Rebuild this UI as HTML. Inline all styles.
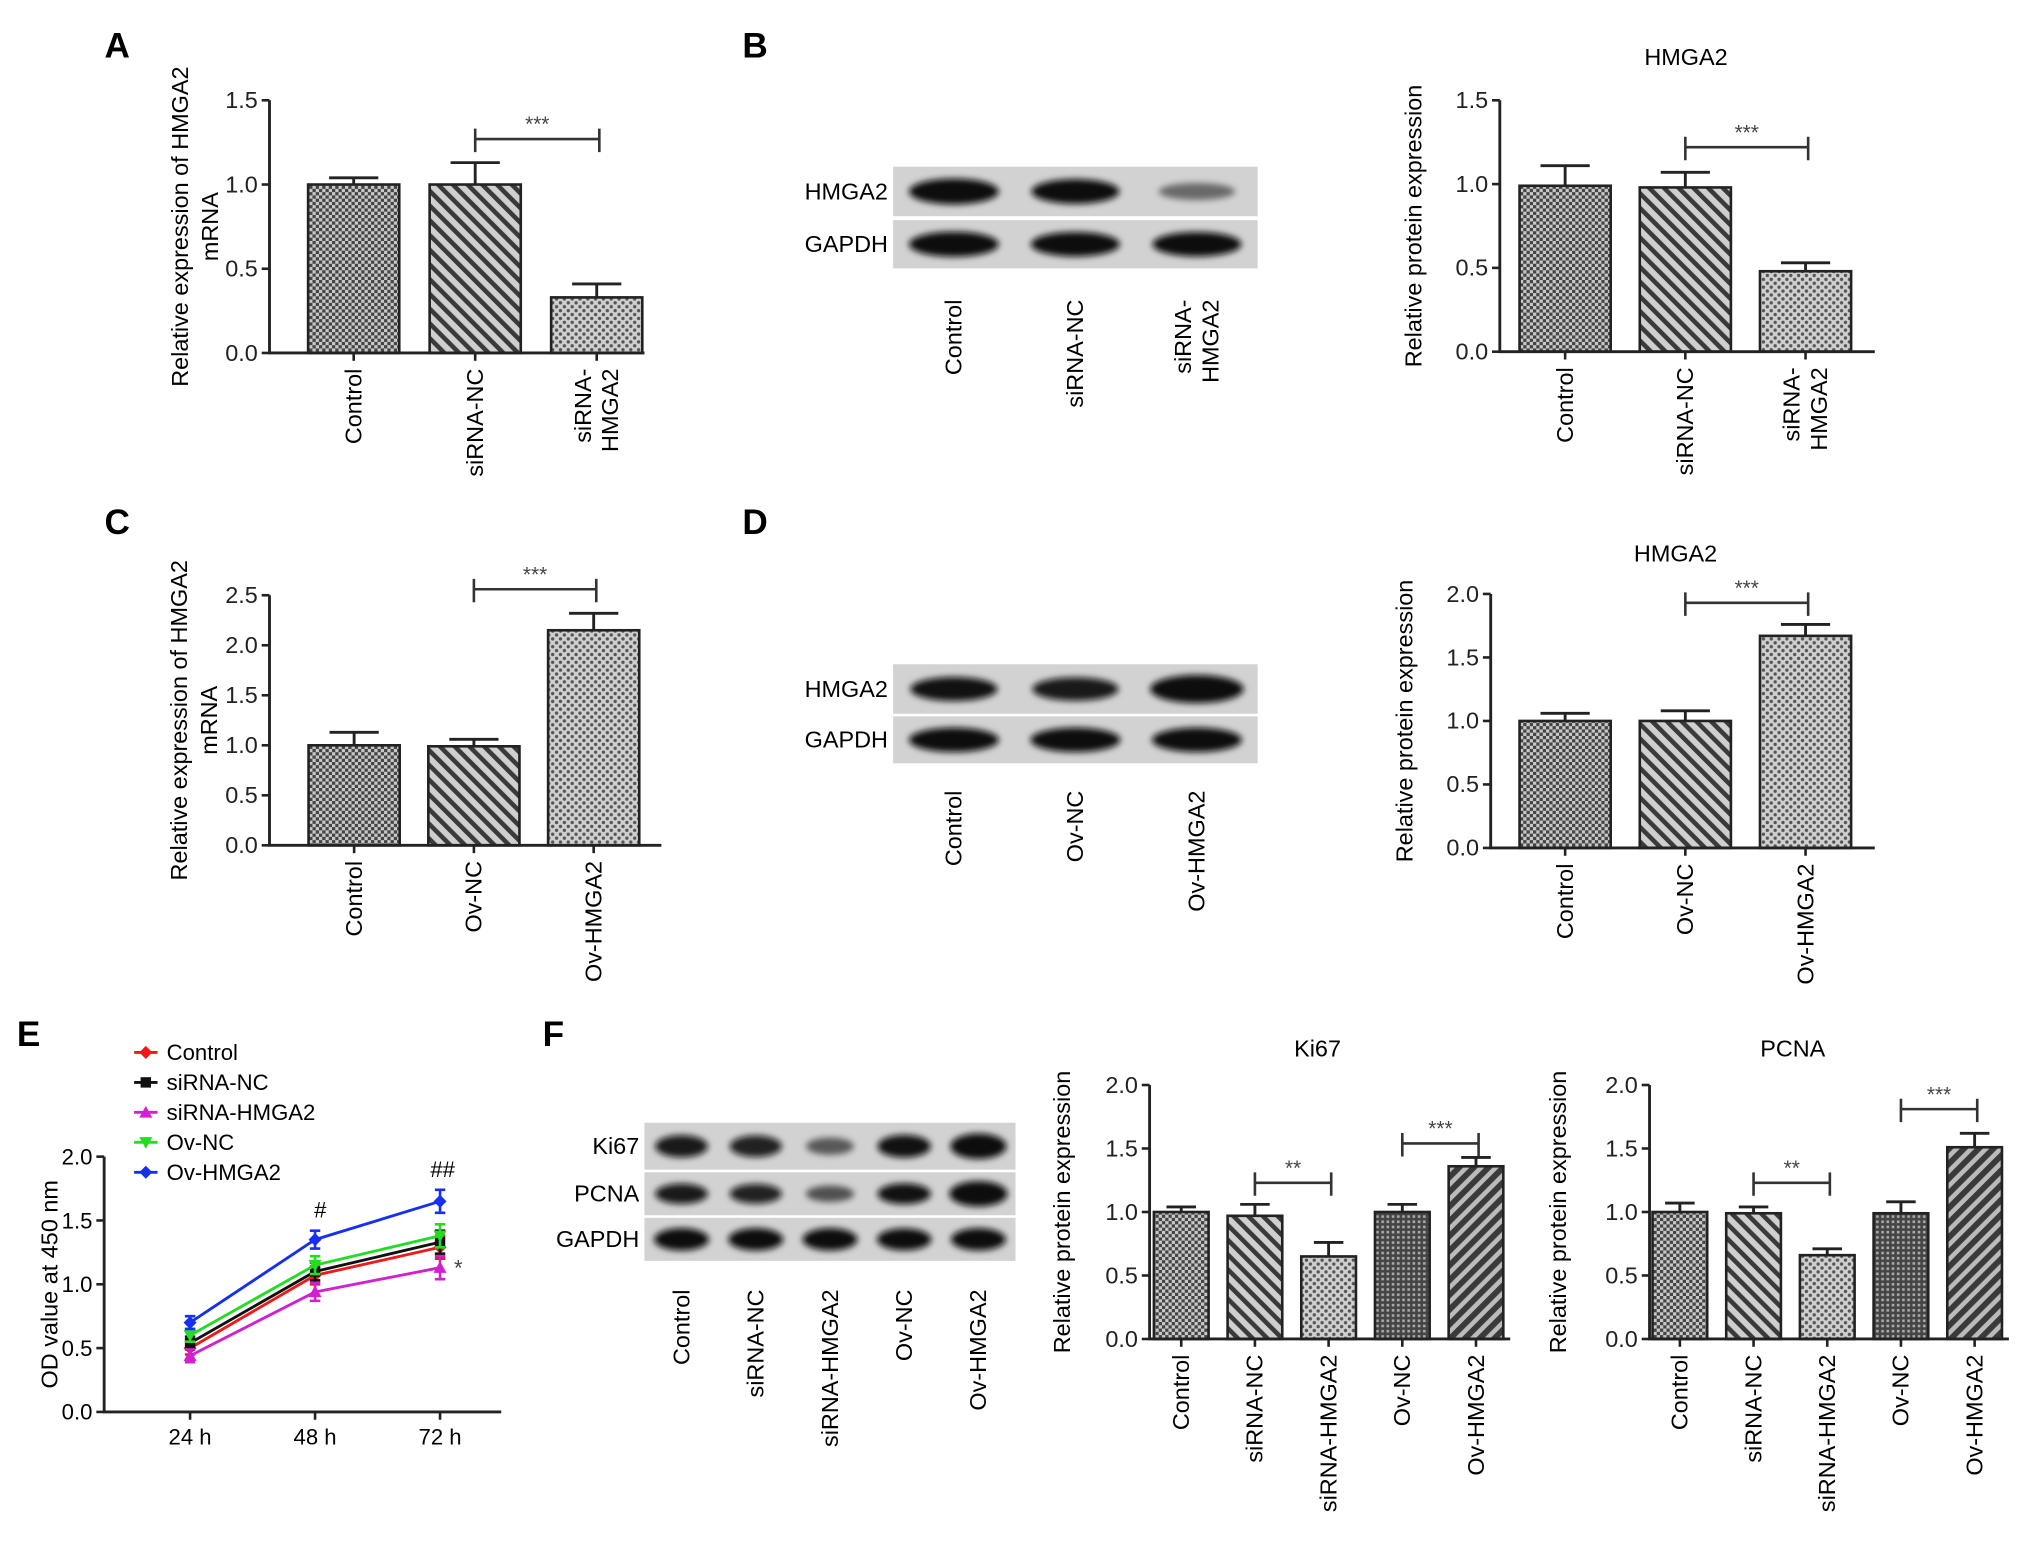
<!DOCTYPE html>
<html><head><meta charset="utf-8"><style>
html,body{margin:0;padding:0;background:#fff;}
svg{display:block;font-family:"Liberation Sans",Arial,sans-serif;}
</style></head><body>
<svg id="fig" width="2031" height="1550" viewBox="0 0 1560 1190" preserveAspectRatio="none" xmlns="http://www.w3.org/2000/svg">
<defs>
<pattern id="p-check" width="5" height="5" patternUnits="userSpaceOnUse"><rect width="5" height="5" fill="#c8c8c8"/><rect width="2.5" height="2.5" fill="#444"/><rect x="2.5" y="2.5" width="2.5" height="2.5" fill="#444"/></pattern>
<pattern id="p-hatch" width="8" height="8" patternUnits="userSpaceOnUse" patternTransform="rotate(-45)"><rect width="8" height="8" fill="#cfcfcf"/><rect width="3.5" height="8" fill="#3a3a3a"/></pattern>
<pattern id="p-dots" width="6" height="6" patternUnits="userSpaceOnUse"><rect width="6" height="6" fill="#d0d0d0"/><circle cx="1.5" cy="1.5" r="1.3" fill="#555"/><circle cx="4.5" cy="4.5" r="1.3" fill="#555"/></pattern>
<pattern id="p-grid" width="4" height="4" patternUnits="userSpaceOnUse"><rect width="4" height="4" fill="#444"/><rect x="1" y="1" width="2" height="2" fill="#aaa"/></pattern>
<pattern id="p-hatch2" width="8" height="8" patternUnits="userSpaceOnUse" patternTransform="rotate(45)"><rect width="8" height="8" fill="#bbb"/><rect width="4.5" height="8" fill="#3a3a3a"/></pattern>
<filter id="blur" x="-30%" y="-60%" width="160%" height="220%"><feGaussianBlur stdDeviation="2.5"/></filter>
</defs>
</svg>
<script>
const NS='http://www.w3.org/2000/svg';
const svg=document.getElementById('fig');
function mk(tag,attrs,parent,text){const e=document.createElementNS(NS,tag);for(const k in attrs)e.setAttribute(k,attrs[k]);if(text!==undefined)e.textContent=text;(parent||svg).appendChild(e);return e;}

// ---------- DATA ----------
const catsA=['Control','siRNA-NC','siRNA-HMGA2'];
const valsA=[1.0,1.0,0.33];
const errsA=[1.04,1.13,0.41];
const valsB=[0.99,0.98,0.48];
const errsB=[1.11,1.07,0.53];
const catsC=['Control','Ov-NC','Ov-HMGA2'];
const valsC=[1.0,0.99,2.15];
const errsC=[1.13,1.06,2.32];
const valsD=[1.0,1.0,1.67];
const errsD=[1.06,1.08,1.76];
const catsF=['Control','siRNA-NC','siRNA-HMGA2','Ov-NC','Ov-HMGA2'];
const valsKi67=[1.0,0.97,0.65,1.0,1.36];
const errsKi67=[1.04,1.06,0.76,1.06,1.43];
const valsPCNA=[1.0,0.99,0.66,0.99,1.51];
const errsPCNA=[1.07,1.04,0.71,1.08,1.62];
const ticks15=[0,0.5,1.0,1.5];
const ticks20=[0,0.5,1.0,1.5,2.0];
const ticks25=[0,0.5,1.0,1.5,2.0,2.5];
const timeCats=['24 h','48 h','72 h'];
const seriesNames=['Control','siRNA-NC','siRNA-HMGA2','Ov-NC','Ov-HMGA2'];
const odControl=[0.50,1.07,1.29];
const odSiNC=[0.54,1.10,1.33];
const odSiHMGA2=[0.44,0.94,1.13];
const odOvNC=[0.60,1.15,1.38];
const odOvHMGA2=[0.70,1.35,1.65];
const odErr=[0.05,0.07,0.09];
const blotB_HMGA2=[1.0,0.9,0.25];
const blotB_GAPDH=[1.0,0.95,0.95];
const blotD_HMGA2=[0.85,0.8,1.2];
const blotD_GAPDH=[1.0,1.0,1.0];
const blotF_Ki67=[0.8,0.75,0.35,0.85,1.1];
const blotF_PCNA=[0.8,0.75,0.4,0.85,1.3];
const blotF_GAPDH=[1.0,1.0,1.0,0.95,1.0];

// ---------- helpers ----------
function fmt(v){return v.toFixed(1);}
function panelLetter(t,x,y){
  const e=mk('text',{x:x,y:y,'font-size':27,'font-weight':'bold','text-anchor':'middle'},svg,t);
  
  
}
function rotLabel(g,lines,cx,topY,fs,name){
  const n=lines.length;
  lines.forEach((ln,k)=>{
    const x=cx+(k-(n-1)/2)*21+6;
    const t=mk('text',{x:x,y:topY,'font-size':fs,'text-anchor':'end',transform:'rotate(-90 '+x+' '+topY+')'},g,ln);
    
    
  });
}
function yTitle(g,lines,x,cy,name){
  const n=lines.length;
  lines.forEach((ln,k)=>{
    const xx=x+(k-(n-1)/2)*23;
    const t=mk('text',{x:xx,y:cy,'font-size':18,'text-anchor':'middle',transform:'rotate(-90 '+xx+' '+cy+')'},g,ln);
    
    
  });
}
function barChart(o){
  const g=mk('g',{});
  
  
  const ys=v=>o.yBot-(v/o.max)*(o.yBot-o.yTop);
  const n=o.cats.length, step=(o.xEnd-o.xStart)/n;
  const xc=i=>o.xStart+step*(i+0.5);
  const bw=o.barW;
  o.vals.forEach((v,i)=>{
    const b=mk('rect',{x:xc(i)-bw/2,y:ys(v),width:bw,height:o.yBot-ys(v),fill:'url(#'+o.pats[i]+')',stroke:'#222','stroke-width':2},g);
    
    
    const e=o.errs[i];
    const eb=mk('path',{d:'M'+xc(i)+' '+ys(v)+'V'+ys(e)+'M'+(xc(i)-bw*0.27)+' '+ys(e)+'H'+(xc(i)+bw*0.27),stroke:'#222','stroke-width':2.2,fill:'none'},g);
    
    
  });
  const ax=mk('path',{d:'M'+o.axisX+' '+o.yTop+'V'+o.yBot+'H'+o.axisEnd,stroke:'#222','stroke-width':2.2,fill:'none'},g);
  
  
  o.ticks.forEach(t=>{
    mk('line',{x1:o.axisX-6,x2:o.axisX,y1:ys(t),y2:ys(t),stroke:'#222','stroke-width':2},g);
    const tl=mk('text',{x:o.axisX-9,y:ys(t)+6,'font-size':18,'text-anchor':'end',fill:'#222'},g,fmt(t));
    
    
  });
  o.cats.forEach((c,i)=>{
    mk('line',{x1:xc(i),x2:xc(i),y1:o.yBot,y2:o.yBot+6,stroke:'#222','stroke-width':2},g);
    const lines=o.labelLines?o.labelLines[i]:[c];
    rotLabel(g,lines,xc(i),o.yBot+12,18,'x-tick-label');
  });
  yTitle(g,o.ytitle,o.ytitleX,(o.yTop+o.yBot)/2+o.ytitleDy,'y-axis-title');
  if(o.title){
    const tt=mk('text',{x:o.title[1],y:o.title[2],'font-size':18,'text-anchor':'middle'},g,o.title[0]);
    
    
  }
  (o.brackets||[]).forEach(br=>{
    const y=ys(br[3]), x1=xc(br[0]), x2=xc(br[1])+2;
    const p=mk('path',{d:'M'+x1+' '+(y+10)+'V'+(y-8)+'M'+x1+' '+y+'H'+x2+'M'+x2+' '+(y+10)+'V'+(y-8),stroke:'#333','stroke-width':2,fill:'none'},g);
    
    
    const s=mk('text',{x:(x1+x2)/2,y:y-6,'font-size':16,'text-anchor':'middle',fill:'#444'},g,br[2]);
    
    
  });
}
function blot(o){
  const g=mk('g',{});
  
  
  const n=o.lanes.length, lw=(o.x1-o.x0)/n;
  o.rows.forEach((r,ri)=>{
    const y0=o.rowY[ri][0], y1=o.rowY[ri][1];
    const bg=mk('rect',{x:o.x0,y:y0,width:o.x1-o.x0,height:y1-y0,fill:'#d2d2d2'},g);
    
    
    const cy=(y0+y1)/2;
    r.vals.forEach((v,i)=>{
      const cx=o.x0+lw*(i+0.5);
      const b=mk('ellipse',{cx:cx,cy:cy,rx:lw*0.37*(0.8+0.2*Math.min(v,1.3)),ry:(y1-y0)*0.26*(0.55+0.45*v),fill:'#0a0a0a','fill-opacity':Math.min(1,0.3+0.8*v),filter:'url(#blur)'},g);
      
      
    });
    const l=mk('text',{x:o.x0-4,y:cy+6,'font-size':18,'text-anchor':'end'},g,r.label);
    
    
  });
  o.lanes.forEach((ln,i)=>{
    const cx=o.x0+lw*(i+0.5);
    rotLabel(g,ln,cx,o.labelY,18,'lane-label');
  });
}

// ---------- panels ----------
panelLetter('A',90,44);panelLetter('B',580,44);panelLetter('C',90,410);
panelLetter('D',580,410);panelLetter('E',22,803);panelLetter('F',425,803);

barChart({name:'chart-a',cats:catsA,vals:valsA,errs:errsA,pats:['p-check','p-hatch','p-dots'],
  axisX:207,yTop:77,yBot:271,max:1.5,ticks:ticks15,xStart:225,xEnd:505,axisEnd:495,barW:70,
  labelLines:[['Control'],['siRNA-NC'],['siRNA-','HMGA2']],ytitle:['Relative expression of HMGA2','mRNA'],ytitleX:156,ytitleDy:0,
  brackets:[[1,2,'***',1.27]]});
barChart({name:'chart-b',cats:catsA,vals:valsB,errs:errsB,pats:['p-check','p-hatch','p-dots'],
  axisX:1152,yTop:77,yBot:270,max:1.5,ticks:ticks15,xStart:1156,xEnd:1433,axisEnd:1440,barW:70,
  labelLines:[['Control'],['siRNA-NC'],['siRNA-','HMGA2']],ytitle:['Relative protein expression'],ytitleX:1092,ytitleDy:0,
  title:['HMGA2',1295,50],brackets:[[1,2,'***',1.22]]});
barChart({name:'chart-c',cats:catsC,vals:valsC,errs:errsC,pats:['p-check','p-hatch','p-dots'],
  axisX:207,yTop:457,yBot:649,max:2.5,ticks:ticks25,xStart:226,xEnd:502,axisEnd:508,barW:70,
  ytitle:['Relative expression of HMGA2','mRNA'],ytitleX:155,ytitleDy:0,
  brackets:[[1,2,'***',2.56]]});
barChart({name:'chart-d',cats:catsC,vals:valsD,errs:errsD,pats:['p-check','p-hatch','p-dots'],
  axisX:1145,yTop:456,yBot:651,max:2.0,ticks:ticks20,xStart:1156,xEnd:1433,axisEnd:1440,barW:70,
  ytitle:['Relative protein expression'],ytitleX:1085,ytitleDy:0,
  title:['HMGA2',1287,431],brackets:[[1,2,'***',1.93]]});
barChart({name:'chart-ki67',cats:catsF,vals:valsKi67,errs:errsKi67,pats:['p-check','p-hatch','p-dots','p-grid','p-hatch2'],
  axisX:883,yTop:833,yBot:1028,max:2.0,ticks:ticks20,xStart:879,xEnd:1162,axisEnd:1160,barW:42,
  ytitle:['Relative protein expression'],ytitleX:822,ytitleDy:0,
  title:['Ki67',1012,811],brackets:[[1,2,'**',1.23],[3,4,'***',1.54]]});
barChart({name:'chart-pcna',cats:catsF,vals:valsPCNA,errs:errsPCNA,pats:['p-check','p-hatch','p-dots','p-grid','p-hatch2'],
  axisX:1267,yTop:833,yBot:1028,max:2.0,ticks:ticks20,xStart:1262,xEnd:1545,axisEnd:1543,barW:42,
  ytitle:['Relative protein expression'],ytitleX:1203,ytitleDy:0,
  title:['PCNA',1377,811],brackets:[[1,2,'**',1.23],[3,4,'***',1.81]]});

blot({name:'blot-b',x0:686,x1:966,rowY:[[128,166],[169,206]],
  rows:[{label:'HMGA2',vals:blotB_HMGA2},{label:'GAPDH',vals:blotB_GAPDH}],
  lanes:[['Control'],['siRNA-NC'],['siRNA-','HMGA2']],labelY:230});
blot({name:'blot-d',x0:686,x1:966,rowY:[[510,548],[550,586]],
  rows:[{label:'HMGA2',vals:blotD_HMGA2},{label:'GAPDH',vals:blotD_GAPDH}],
  lanes:[['Control'],['Ov-NC'],['Ov-HMGA2']],labelY:607});
blot({name:'blot-f',x0:495,x1:780,rowY:[[862,898],[900,933],[935,968]],
  rows:[{label:'Ki67',vals:blotF_Ki67},{label:'PCNA',vals:blotF_PCNA},{label:'GAPDH',vals:blotF_GAPDH}],
  lanes:[['Control'],['siRNA-NC'],['siRNA-HMGA2'],['Ov-NC'],['Ov-HMGA2']],labelY:990});

// ---------- Panel E line chart ----------
(function(){
  const g=mk('g',{});
  
  
  const yTop=888,yBot=1084,max=2.0,axisX=80,axisEnd=385,x0=146,x1=338;
  const ys=v=>yBot-(v/max)*(yBot-yTop);
  const xs=i=>x0+i*(x1-x0)/(timeCats.length-1);
  const colors=['#f01818','#111111','#d020d0','#22dd22','#1530f0'];
  const data=[odControl,odSiNC,odSiHMGA2,odOvNC,odOvHMGA2];
  const shapes=['diamond','square','tri','tridown','diamond'];
  function marker(par,shape,x,y,c){
    let d;
    if(shape==='square')d='M'+(x-4)+' '+(y-4)+'h8v8h-8z';
    else if(shape==='tri')d='M'+x+' '+(y-5)+'L'+(x+5)+' '+(y+4)+'L'+(x-5)+' '+(y+4)+'z';
    else if(shape==='tridown')d='M'+x+' '+(y+5)+'L'+(x+5)+' '+(y-4)+'L'+(x-5)+' '+(y-4)+'z';
    else d='M'+x+' '+(y-5)+'L'+(x+5)+' '+y+'L'+x+' '+(y+5)+'L'+(x-5)+' '+y+'z';
    const m=mk('path',{d:d,fill:c},par);
    
    
  }
  data.forEach((s,si)=>{
    const sg=mk('g',{},g);
    
    
    const pts=s.map((v,i)=>xs(i)+','+ys(v)).join(' ');
    const pl=mk('polyline',{points:pts,fill:'none',stroke:colors[si],'stroke-width':2.2},sg);
    
    
    s.forEach((v,i)=>{
      const e=odErr[i];
      mk('path',{d:'M'+xs(i)+' '+ys(v-e)+'V'+ys(v+e)+'M'+(xs(i)-4)+' '+ys(v-e)+'h8M'+(xs(i)-4)+' '+ys(v+e)+'h8',stroke:colors[si],'stroke-width':2,fill:'none'},sg);
      marker(sg,shapes[si],xs(i),ys(v),colors[si]);
    });
    const ly=808+si*23;
    const lg=mk('g',{},g);
    
    
    mk('line',{x1:103,x2:121,y1:ly,y2:ly,stroke:colors[si],'stroke-width':2.2},lg);
    marker(lg,shapes[si],112,ly,colors[si]);
    mk('text',{x:128,y:ly+6,'font-size':17},lg,seriesNames[si]);
  });
  const ax=mk('path',{d:'M'+axisX+' '+yTop+'V'+yBot+'H'+axisEnd,stroke:'#222','stroke-width':2.2,fill:'none'},g);
  
  
  ticks20.forEach(t=>{
    mk('line',{x1:axisX-6,x2:axisX,y1:ys(t),y2:ys(t),stroke:'#222','stroke-width':2},g);
    const tl=mk('text',{x:axisX-9,y:ys(t)+6,'font-size':17,'text-anchor':'end'},g,fmt(t));
    
    
  });
  timeCats.forEach((c,i)=>{
    mk('line',{x1:xs(i),x2:xs(i),y1:yBot,y2:yBot+6,stroke:'#222','stroke-width':2},g);
    const tl=mk('text',{x:xs(i),y:yBot+25,'font-size':17,'text-anchor':'middle'},g,c);
    
    
  });
  yTitle(g,['OD value at 450 nm'],44,(yTop+yBot)/2,'y-axis-title');
  const a1=mk('text',{x:xs(1)+4,y:ys(odOvHMGA2[1]+odErr[1])-10,'font-size':17,'text-anchor':'middle'},g,'#');
  
  
  const a2=mk('text',{x:xs(2)+2,y:ys(odOvHMGA2[2]+odErr[2])-10,'font-size':17,'text-anchor':'middle'},g,'##');
  
  
  const a3=mk('text',{x:xs(2)+14,y:ys(odSiHMGA2[2])+6,'font-size':17,'text-anchor':'middle',fill:'#444'},g,'*');
  
  
})();
</script>
</body></html>
